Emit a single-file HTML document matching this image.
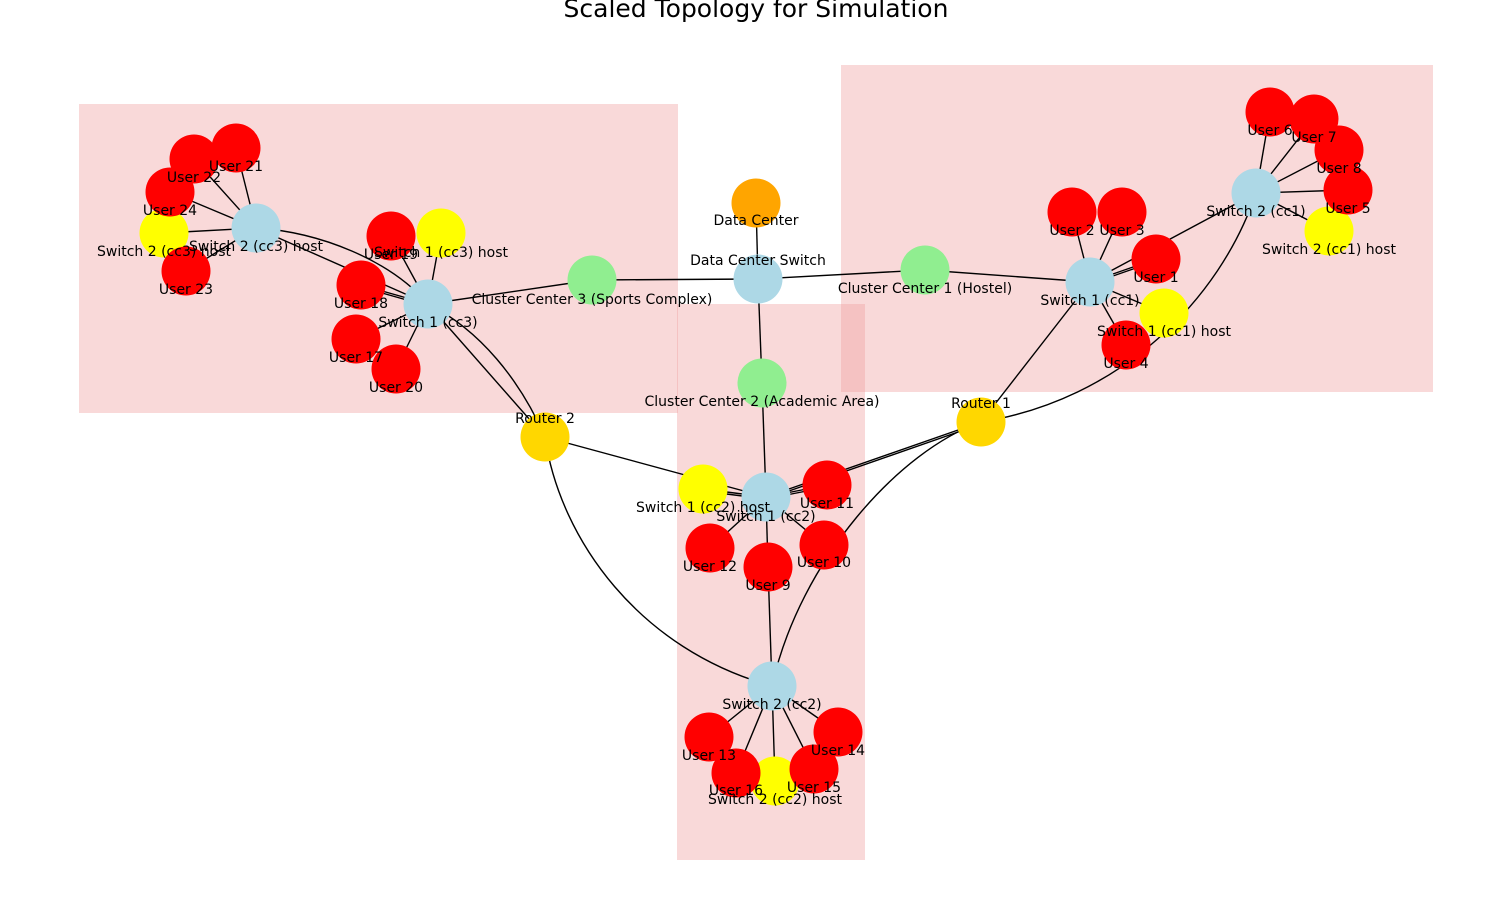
<!DOCTYPE html>
<html><head><meta charset="utf-8"><style>
html,body{margin:0;padding:0;background:#fff;}
svg text{font-family:"DejaVu Sans","Liberation Sans",sans-serif;font-size:14px;fill:#000;}
</style></head><body>
<svg width="1512" height="909" viewBox="0 0 1512 909" xmlns="http://www.w3.org/2000/svg">
<text x="756" y="17" text-anchor="middle" style="font-size:25px">Scaled Topology for Simulation</text>
<g fill="#f0a0a0" fill-opacity="0.4">
<rect x="79" y="104" width="599" height="309"/>
<rect x="841" y="65" width="592" height="327"/>
<rect x="677" y="304" width="188" height="556"/>
</g>
<g stroke="#000" stroke-width="1.4" fill="none">
<line x1="756" y1="203" x2="758" y2="279"/>
<line x1="758" y1="279" x2="592" y2="280"/>
<line x1="758" y1="279" x2="925" y2="270"/>
<line x1="758" y1="279" x2="762" y2="383"/>
<line x1="592" y1="280" x2="428" y2="304"/>
<line x1="925" y1="270" x2="1090" y2="282"/>
<line x1="762" y1="383" x2="766" y2="497"/>
<line x1="1090" y1="282" x2="1156" y2="259"/>
<line x1="1090" y1="284" x2="1156" y2="261"/>
<line x1="1090" y1="282" x2="1072" y2="212"/>
<line x1="1090" y1="282" x2="1122" y2="212"/>
<line x1="1090" y1="282" x2="1164" y2="313"/>
<line x1="1090" y1="282" x2="1126" y2="345"/>
<line x1="1090" y1="282" x2="1256" y2="193"/>
<line x1="1090" y1="282" x2="981" y2="422"/>
<line x1="1256" y1="193" x2="1270" y2="112"/>
<line x1="1256" y1="193" x2="1314" y2="119"/>
<line x1="1256" y1="193" x2="1339" y2="150"/>
<line x1="1256" y1="193" x2="1348" y2="190"/>
<line x1="1256" y1="193" x2="1329" y2="231"/>
<path d="M981,422 C1120,400 1220,300 1256,193"/>
<path d="M981,422 C900,450 800,560 772,686"/>
<line x1="981" y1="422" x2="766" y2="497"/>
<line x1="981" y1="424" x2="766" y2="499"/>
<line x1="545" y1="437" x2="766" y2="497"/>
<line x1="545" y1="437" x2="428" y2="304"/>
<path d="M545,437 C520,380 480,330 428,304"/>
<path d="M545,437 C560,540 640,650 772,686"/>
<line x1="766" y1="497" x2="703" y2="489"/>
<line x1="766" y1="499" x2="703" y2="491"/>
<line x1="766" y1="497" x2="827" y2="485"/>
<line x1="766" y1="499" x2="827" y2="487"/>
<line x1="766" y1="497" x2="824" y2="545"/>
<line x1="766" y1="497" x2="768" y2="567"/>
<line x1="766" y1="497" x2="710" y2="548"/>
<line x1="768" y1="567" x2="772" y2="686"/>
<line x1="772" y1="686" x2="709" y2="737"/>
<line x1="772" y1="686" x2="838" y2="732"/>
<line x1="772" y1="686" x2="814" y2="769"/>
<line x1="772" y1="686" x2="736" y2="773"/>
<line x1="772" y1="686" x2="775" y2="781"/>
<line x1="428" y1="304" x2="391" y2="236"/>
<line x1="428" y1="304" x2="441" y2="233"/>
<line x1="428" y1="304" x2="361" y2="285"/>
<line x1="428" y1="306" x2="361" y2="287"/>
<line x1="428" y1="304" x2="356" y2="339"/>
<line x1="428" y1="304" x2="396" y2="369"/>
<line x1="428" y1="304" x2="256" y2="228"/>
<path d="M256,228 C320,232 390,260 428,304"/>
<line x1="256" y1="228" x2="236" y2="148"/>
<line x1="256" y1="228" x2="194" y2="159"/>
<line x1="256" y1="228" x2="170" y2="192"/>
<line x1="256" y1="228" x2="164" y2="233"/>
<line x1="256" y1="228" x2="186" y2="271"/>
</g>
<g>
<circle cx="756" cy="203" r="24.5" fill="#ffa500"/>
<circle cx="592" cy="280" r="24.5" fill="#90ee90"/>
<circle cx="925" cy="270" r="24.5" fill="#90ee90"/>
<circle cx="762" cy="383" r="24.5" fill="#90ee90"/>
<circle cx="981" cy="422" r="24.5" fill="#ffd700"/>
<circle cx="545" cy="437" r="24.5" fill="#ffd700"/>
<g fill="#add8e6">
<circle cx="758" cy="279" r="24.5"/>
<circle cx="1090" cy="282" r="24.5"/>
<circle cx="1256" cy="193" r="24.5"/>
<circle cx="766" cy="497" r="24.5"/>
<circle cx="772" cy="686" r="24.5"/>
<circle cx="428" cy="304" r="24.5"/>
<circle cx="256" cy="228" r="24.5"/>
</g>
<g fill="#ffff00">
<circle cx="1164" cy="313" r="24.5"/>
<circle cx="1329" cy="231" r="24.5"/>
<circle cx="703" cy="489" r="24.5"/>
<circle cx="775" cy="781" r="24.5"/>
<circle cx="441" cy="233" r="24.5"/>
<circle cx="164" cy="233" r="24.5"/>
</g>
<g fill="#ff0000">
<circle cx="1156" cy="259" r="24.5"/>
<circle cx="1072" cy="212" r="24.5"/>
<circle cx="1122" cy="212" r="24.5"/>
<circle cx="1126" cy="345" r="24.5"/>
<circle cx="1270" cy="112" r="24.5"/>
<circle cx="1314" cy="119" r="24.5"/>
<circle cx="1339" cy="150" r="24.5"/>
<circle cx="1348" cy="190" r="24.5"/>
<circle cx="827" cy="485" r="24.5"/>
<circle cx="824" cy="545" r="24.5"/>
<circle cx="768" cy="567" r="24.5"/>
<circle cx="710" cy="548" r="24.5"/>
<circle cx="709" cy="737" r="24.5"/>
<circle cx="838" cy="732" r="24.5"/>
<circle cx="814" cy="769" r="24.5"/>
<circle cx="736" cy="773" r="24.5"/>
<circle cx="391" cy="236" r="24.5"/>
<circle cx="361" cy="285" r="24.5"/>
<circle cx="356" cy="339" r="24.5"/>
<circle cx="396" cy="369" r="24.5"/>
<circle cx="236" cy="148" r="24.5"/>
<circle cx="194" cy="159" r="24.5"/>
<circle cx="170" cy="192" r="24.5"/>
<circle cx="186" cy="271" r="24.5"/>
</g>
</g>
<g text-anchor="middle">
<text x="756" y="225">Data Center</text>
<text x="758" y="265">Data Center Switch</text>
<text x="592" y="304">Cluster Center 3 (Sports Complex)</text>
<text x="925" y="293">Cluster Center 1 (Hostel)</text>
<text x="762" y="406">Cluster Center 2 (Academic Area)</text>
<text x="981" y="408">Router 1</text>
<text x="545" y="423">Router 2</text>
<text x="1090" y="305">Switch 1 (cc1)</text>
<text x="1156" y="282">User 1</text>
<text x="1072" y="235">User 2</text>
<text x="1122" y="235">User 3</text>
<text x="1164" y="336">Switch 1 (cc1) host</text>
<text x="1126" y="368">User 4</text>
<text x="1256" y="216">Switch 2 (cc1)</text>
<text x="1270" y="135">User 6</text>
<text x="1314" y="142">User 7</text>
<text x="1339" y="173">User 8</text>
<text x="1348" y="213">User 5</text>
<text x="1329" y="254">Switch 2 (cc1) host</text>
<text x="703" y="512">Switch 1 (cc2) host</text>
<text x="766" y="521">Switch 1 (cc2)</text>
<text x="827" y="508">User 11</text>
<text x="824" y="567">User 10</text>
<text x="768" y="590">User 9</text>
<text x="710" y="571">User 12</text>
<text x="772" y="709">Switch 2 (cc2)</text>
<text x="709" y="760">User 13</text>
<text x="838" y="755">User 14</text>
<text x="814" y="792">User 15</text>
<text x="736" y="795">User 16</text>
<text x="775" y="804">Switch 2 (cc2) host</text>
<text x="428" y="327">Switch 1 (cc3)</text>
<text x="391" y="259">User 19</text>
<text x="441" y="257">Switch 1 (cc3) host</text>
<text x="361" y="308">User 18</text>
<text x="356" y="362">User 17</text>
<text x="396" y="392">User 20</text>
<text x="256" y="251">Switch 2 (cc3) host</text>
<text x="236" y="171">User 21</text>
<text x="194" y="182">User 22</text>
<text x="170" y="215">User 24</text>
<text x="164" y="256">Switch 2 (cc3) host</text>
<text x="186" y="294">User 23</text>
</g>
</svg>
</body></html>
